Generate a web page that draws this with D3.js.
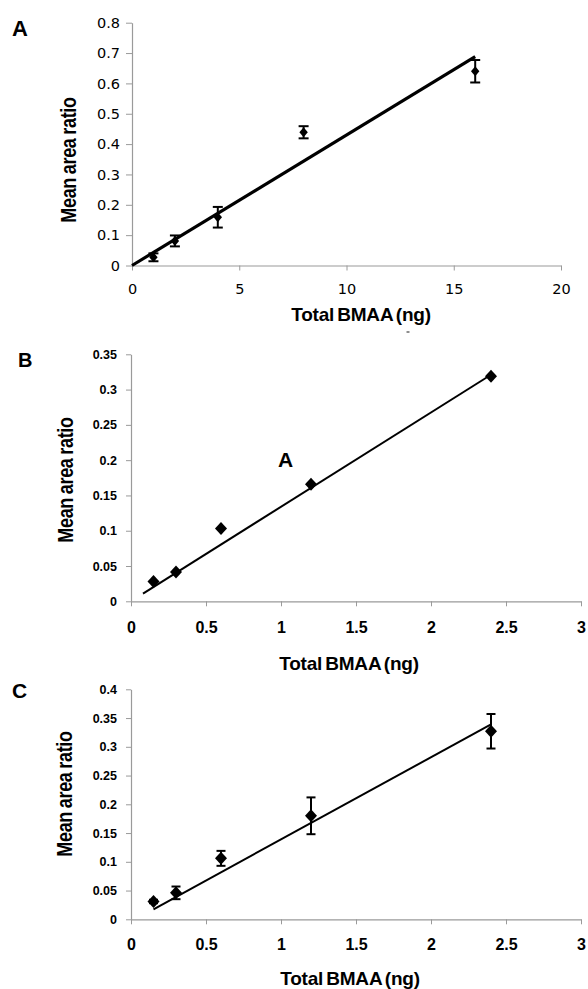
<!DOCTYPE html>
<html><head><meta charset="utf-8">
<script src="https://cdn.jsdelivr.net/npm/d3@7"></script>
<style>html,body{margin:0;padding:0;background:#fff;} svg{display:block;}</style>
</head><body>
<svg id="chart" width="588" height="989"></svg>
<script>
// ---------- DATA ----------
// Panel A
const xA = [1, 2, 4, 8, 16];
const yA = [0.027, 0.081, 0.159, 0.439, 0.64];
const errA = [0.013, 0.018, 0.034, 0.02, 0.037];
const fitXA = [0, 16];
const fitYA = [0, 0.688];
const xTicksA = [0, 5, 10, 15, 20];
const yTicksA = [0, 0.1, 0.2, 0.3, 0.4, 0.5, 0.6, 0.7, 0.8];
// Panel B
const xB = [0.15, 0.3, 0.6, 1.2, 2.4];
const yB = [0.028, 0.0415, 0.103, 0.166, 0.319];
const errB = [0, 0, 0, 0, 0];
const fitXB = [0.08, 2.4];
const fitYB = [0.011, 0.321];
const xTicksB = [0, 0.5, 1, 1.5, 2, 2.5, 3];
const yTicksB = [0, 0.05, 0.1, 0.15, 0.2, 0.25, 0.3, 0.35];
// Panel C
const xC = [0.15, 0.3, 0.6, 1.2, 2.4];
const yC = [0.031, 0.046, 0.106, 0.18, 0.327];
const errC = [0.003, 0.011, 0.013, 0.032, 0.03];
const fitXC = [0.15, 2.4];
const fitYC = [0.0174, 0.339];
const xTicksC = [0, 0.5, 1, 1.5, 2, 2.5, 3];
const yTicksC = [0, 0.05, 0.1, 0.15, 0.2, 0.25, 0.3, 0.35, 0.4];
// Text
const xTitle = "Total BMAA (ng)";
const yTitle = "Mean area ratio";
const panelLetters = ["A", "B", "C"];
const strayLabel = "A";

// ---------- LAYOUT ----------
const svg = d3.select("#chart");
const panels = [
  { letter: panelLetters[0], lx: 12, ly: 36, lsize: 22,
    xs: xA, ys: yA, es: errA, fx: fitXA, fy: fitYA, xt: xTicksA, yt: yTicksA,
    xDom: [0, 20], yDom: [0, 0.8], xR: [132, 561], yR: [265.5, 22.7],
    tickFont: "'DejaVu Sans', sans-serif", tickW: "normal", yTickSize: 14.5, xTickSize: 14.5,
    ySize: 6, yPad: 6, xSize: 5, xPad: 13,
    fitW: 3.2, mw: 4.2, mh: 5, cap: 5, ebW: 2,
    xtX: 361, xtY: 321, ytX: 76, ytY: 160 },
  { letter: panelLetters[1], lx: 18, ly: 367, lsize: 20,
    xs: xB, ys: yB, es: errB, fx: fitXB, fy: fitYB, xt: xTicksB, yt: yTicksB,
    xDom: [0, 3], yDom: [0, 0.35], xR: [131, 581], yR: [601.3, 354.3],
    tickFont: "'Liberation Sans', Arial, sans-serif", tickW: "bold", yTickSize: 12.5, xTickSize: 16,
    ySize: 5, yPad: 9, xSize: 5, xPad: 15,
    fitW: 2, mw: 6, mh: 6.5, cap: 4.5, ebW: 2,
    xtX: 349, xtY: 670, ytX: 73, ytY: 480 },
  { letter: panelLetters[2], lx: 12, ly: 698, lsize: 21,
    xs: xC, ys: yC, es: errC, fx: fitXC, fy: fitYC, xt: xTicksC, yt: yTicksC,
    xDom: [0, 3], yDom: [0, 0.4], xR: [131, 581], yR: [919.3, 689.3],
    tickFont: "'Liberation Sans', Arial, sans-serif", tickW: "bold", yTickSize: 12.5, xTickSize: 16,
    ySize: 5, yPad: 9, xSize: 5, xPad: 14,
    fitW: 2, mw: 6, mh: 6.5, cap: 4.5, ebW: 2,
    xtX: 350, xtY: 985, ytX: 72, ytY: 794 }
];

const axisColor = "#9a9a9a";

panels.forEach((p, pi) => {
  const x = d3.scaleLinear().domain(p.xDom).range(p.xR);
  const y = d3.scaleLinear().domain(p.yDom).range(p.yR);
  const g = svg.append("g");

  // axes
  const yAxis = d3.axisLeft(y).tickValues(p.yt).tickSize(p.ySize).tickSizeOuter(0)
    .tickPadding(p.yPad).tickFormat(d => String(d));
  const xAxis = d3.axisBottom(x).tickValues(p.xt).tickSize(p.xSize).tickSizeOuter(0)
    .tickPadding(p.xPad).tickFormat(d => String(d));

  const gy = g.append("g").attr("transform", `translate(${p.xR[0]},0)`).call(yAxis);
  const gx = g.append("g").attr("transform", `translate(0,${p.yR[0]})`).call(xAxis);
  [gx, gy].forEach(a => {
    a.select(".domain").attr("stroke", axisColor).attr("stroke-width", 1.2);
    a.selectAll(".tick line").attr("stroke", axisColor).attr("stroke-width", 1);
    a.selectAll(".tick text").attr("fill", "#000")
      .style("font-family", p.tickFont).style("font-weight", p.tickW);
  });
  gy.selectAll(".tick text").style("font-size", p.yTickSize + "px");
  gx.selectAll(".tick text").style("font-size", p.xTickSize + "px");

  // fit line
  const fitPts = p.fx.map((v, i) => [v, p.fy[i]]);
  g.append("path").datum(fitPts)
    .attr("d", d3.line().x(d => x(d[0])).y(d => y(d[1])))
    .attr("fill", "none").attr("stroke", "#000").attr("stroke-width", p.fitW);

  // error bars
  const pts = p.xs.map((v, i) => ({ x: v, y: p.ys[i], e: p.es[i] }));
  const eb = g.append("g").attr("stroke", "#000").attr("stroke-width", p.ebW);
  pts.filter(d => d.e > 0).forEach(d => {
    const cx = x(d.x), y1 = y(d.y - d.e), y2 = y(d.y + d.e);
    eb.append("line").attr("x1", cx).attr("x2", cx).attr("y1", y1).attr("y2", y2);
    eb.append("line").attr("x1", cx - p.cap).attr("x2", cx + p.cap).attr("y1", y1).attr("y2", y1);
    eb.append("line").attr("x1", cx - p.cap).attr("x2", cx + p.cap).attr("y1", y2).attr("y2", y2);
  });

  // diamond markers
  g.append("g").selectAll("path").data(pts).join("path")
    .attr("d", d => {
      const cx = x(d.x), cy = y(d.y);
      return `M${cx},${cy - p.mh}L${cx + p.mw},${cy}L${cx},${cy + p.mh}L${cx - p.mw},${cy}Z`;
    })
    .attr("fill", "#000");

  // panel letter
  svg.append("text").attr("x", p.lx).attr("y", p.ly).text(p.letter)
    .style("font-family", "'Liberation Sans', Arial, sans-serif")
    .style("font-weight", "bold").style("font-size", p.lsize + "px");

  // x title
  svg.append("text").attr("x", p.xtX).attr("y", p.xtY).attr("text-anchor", "middle")
    .text(xTitle)
    .style("font-family", "'Liberation Sans', Arial, sans-serif")
    .style("font-weight", "bold").style("font-size", "19px")
    .style("letter-spacing", "-0.2px").style("word-spacing", "-2px");

  // y title
  svg.append("text").attr("text-anchor", "middle")
    .attr("transform", `translate(${p.ytX},${p.ytY}) rotate(-90) scale(1,1.25)`)
    .text(yTitle)
    .style("font-family", "'Liberation Sans', Arial, sans-serif")
    .style("font-weight", "bold").style("font-size", "18px")
    .style("letter-spacing", "-0.3px").style("word-spacing", "-1px");
});

// stray annotation letter inside panel B
svg.append("text").attr("x", 278).attr("y", 467).text(strayLabel)
  .style("font-family", "'Liberation Sans', Arial, sans-serif")
  .style("font-weight", "bold").style("font-size", "21px");
// tiny dash artifact under panel A title
svg.append("line").attr("x1", 406.5).attr("x2", 409.5).attr("y1", 332).attr("y2", 332)
  .attr("stroke", "#444").attr("stroke-width", 1.2);
</script>
</body></html>
